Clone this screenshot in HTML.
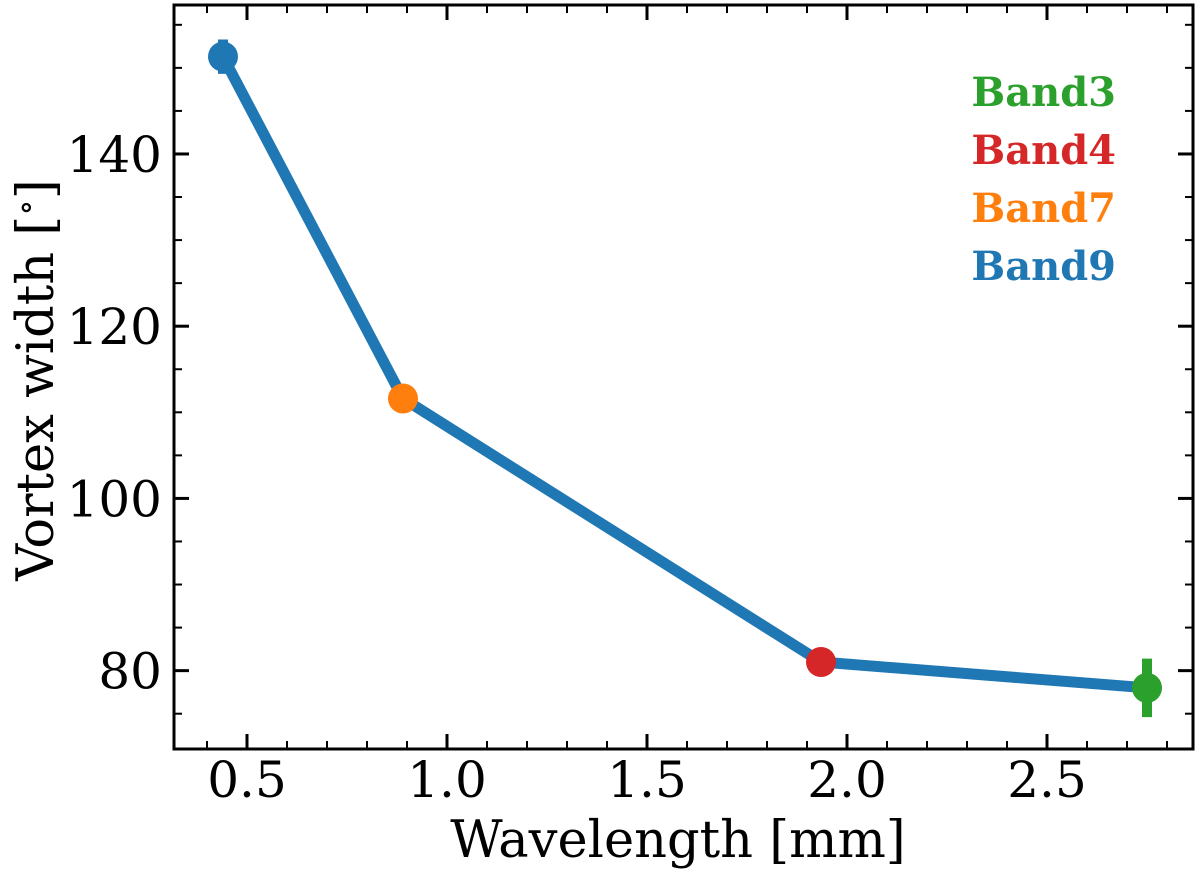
<!DOCTYPE html>
<html><head><meta charset="utf-8"><style>
body{margin:0;background:#fff;}
svg text{font-family:"DejaVu Serif","Liberation Serif",serif;}
</style></head><body>
<svg id="chart" width="1200" height="872" viewBox="0 0 1200 872" xmlns="http://www.w3.org/2000/svg">
<g id="axes"></g>
<g id="series"></g>
<g id="legend"></g>
</svg>
<script>
const wavelengths = [0.44, 0.89, 1.935, 2.75];
const widths = [151.3, 111.6, 81.0, 78.0];
const errors = [2.0, 0.8, 0.8, 3.4];
const pointColors = ['#1f77b4', '#ff7f0e', '#d62728', '#2ca02c'];
const xTicks = [0.5, 1.0, 1.5, 2.0, 2.5];
const xTickLabels = ['0.5', '1.0', '1.5', '2.0', '2.5'];
const yTicks = [80, 100, 120, 140];
const yTickLabels = ['80', '100', '120', '140'];
const legendLabels = ['Band3', 'Band4', 'Band7', 'Band9'];
const legendColors = ['#2ca02c', '#d62728', '#ff7f0e', '#1f77b4'];

const L=174, R=1193, T=5, B=749;
const xMin=0.3175, xMax=2.865, yMin=70.9, yMax=157.3;
const sx=v=>L+(v-xMin)/(xMax-xMin)*(R-L);
const sy=v=>B-(v-yMin)/(yMax-yMin)*(B-T);
const NS='http://www.w3.org/2000/svg';
function mk(tag, attrs, parent){const e=document.createElementNS(NS,tag);for(const k in attrs)e.setAttribute(k,attrs[k]);parent.appendChild(e);return e;}
const axes=document.getElementById('axes'), series=document.getElementById('series'), legend=document.getElementById('legend');

for(let v=0.4; v<=2.85; v+=0.1){
  const x=sx(v);
  const t1=mk('line',{x1:x,x2:x,y1:B,y2:B-8,stroke:'#000','stroke-width':2},axes);
  
  
  const t2=mk('line',{x1:x,x2:x,y1:T,y2:T+8,stroke:'#000','stroke-width':2},axes);
  
  
}
for(let v=75; v<=155; v+=5){
  const y=sy(v);
  const t1=mk('line',{x1:L,x2:L+8,y1:y,y2:y,stroke:'#000','stroke-width':2},axes);
  
  
  const t2=mk('line',{x1:R,x2:R-8,y1:y,y2:y,stroke:'#000','stroke-width':2},axes);
  
  
}
xTicks.forEach((v,i)=>{
  const x=sx(v);
  const t=mk('line',{x1:x,x2:x,y1:B,y2:B-15,stroke:'#000','stroke-width':3},axes);
  
  
  const t2=mk('line',{x1:x,x2:x,y1:T,y2:T+15,stroke:'#000','stroke-width':3},axes);
  
  
  const lb=mk('text',{x:x,y:797,'text-anchor':'middle','font-size':50},axes);
  lb.textContent=xTickLabels[i];
  
  
});
yTicks.forEach((v,i)=>{
  const y=sy(v);
  const t=mk('line',{x1:L,x2:L+15,y1:y,y2:y,stroke:'#000','stroke-width':3},axes);
  
  
  const t2=mk('line',{x1:R,x2:R-15,y1:y,y2:y,stroke:'#000','stroke-width':3},axes);
  
  
  const lb=mk('text',{x:162,y:y+18,'text-anchor':'end','font-size':50},axes);
  lb.textContent=yTickLabels[i];
  
  
});
const frame=mk('rect',{x:L,y:T,width:R-L,height:B-T,fill:'none',stroke:'#000','stroke-width':3},axes);


const xt=mk('text',{x:678,y:857,'text-anchor':'middle','font-size':51},axes);
xt.textContent='Wavelength [mm]';


const yt=mk('text',{x:0,y:0,'text-anchor':'middle','font-size':51,transform:'translate(53,380) rotate(-90)'},axes);


yt.innerHTML='Vortex width [<tspan font-size="34" dy="-16">∘</tspan><tspan dy="16">]</tspan>';

const pts=wavelengths.map((w,i)=>sx(w)+','+sy(widths[i])).join(' ');
const line=mk('polyline',{points:pts,fill:'none',stroke:'#1f77b4','stroke-width':11,'stroke-linejoin':'round'},series);


wavelengths.forEach((w,i)=>{
  const x=sx(w), y=sy(widths[i]);
  const eb=mk('line',{x1:x,x2:x,y1:sy(widths[i]+errors[i]),y2:sy(widths[i]-errors[i]),stroke:pointColors[i],'stroke-width':10},series);
  
  
  const c=mk('circle',{cx:x,cy:y,r:15,fill:pointColors[i]},series);
  
  
});
legendLabels.forEach((lab,i)=>{
  const t=mk('text',{x:1116,y:106+i*58,'text-anchor':'end','font-size':40,'font-weight':'bold',fill:legendColors[i]},legend);
  t.textContent=lab;
  
  
});
</script>
</body></html>
